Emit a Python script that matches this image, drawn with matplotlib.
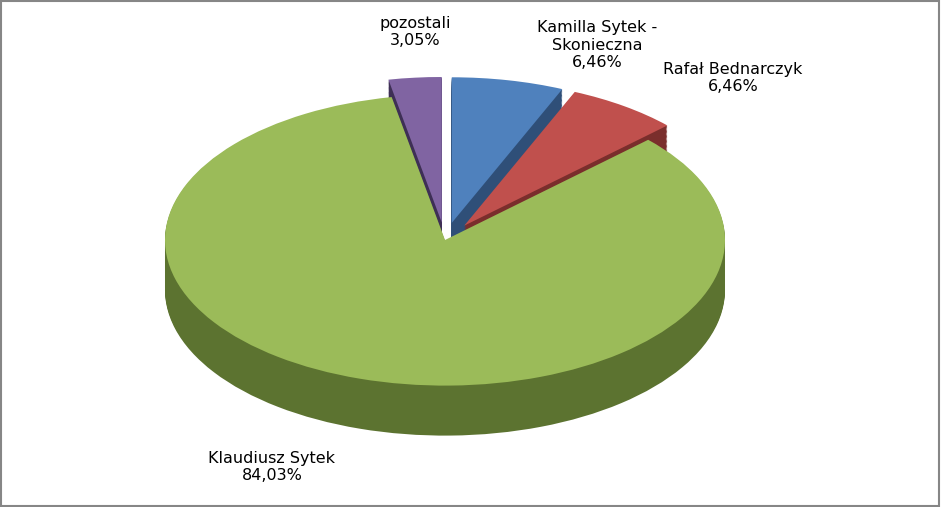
import matplotlib
matplotlib.use("Agg")
import matplotlib.pyplot as plt
from matplotlib.transforms import Affine2D
import numpy as np

labels = ["Kamilla Sytek -\nSkonieczna", "Rafał Bednarczyk", "Klaudiusz Sytek", "pozostali"]
values = [6.46, 6.46, 84.03, 3.05]
pct_text = ["6,46%", "6,46%", "84,03%", "3,05%"]
colors = ["#4F81BD", "#C0504D", "#9BBB59", "#8064A2"]
side_colors = ["#2F4F78", "#7A2E2C", "#5C7330", "#3E2F55"]
explode = [0.12, 0.12, 0.0, 0.12]

fig = plt.figure(figsize=(9.41, 5.07), dpi=100)
ax = fig.add_axes([0, 0, 1, 1])
cx, cy, R, sy, depth = 445, 267, 280, 0.52, 50
expl_px = [e * R for e in explode]

def draw(idx, d, cols):
    w, _ = ax.pie(values, radius=R, center=(cx, cy), startangle=90, counterclock=False,
                  explode=expl_px, colors=cols, frame=True,
                  wedgeprops=dict(linewidth=0))
    tr = Affine2D().translate(-cx, -cy).scale(1, sy).translate(cx, cy - d) + ax.transData
    for i, p in enumerate(w):
        if i in idx:
            p.set_transform(tr)
        else:
            p.remove()

for group in ([0, 1, 3], [2]):
    for d in np.linspace(depth, 1, 40):
        draw(group, d, side_colors)
    draw(group, 0, colors)
ax.set_xlim(0, 941); ax.set_ylim(0, 507); ax.axis("off")

fs = 11.5
ax.text(415, 475, labels[3] + "\n" + pct_text[3], ha="center", va="center", fontsize=fs, linespacing=1.2)
ax.text(597, 462, labels[0] + "\n" + pct_text[0], ha="center", va="center", fontsize=fs, linespacing=1.2)
ax.text(733, 429, labels[1] + "\n" + pct_text[1], ha="center", va="center", fontsize=fs, linespacing=1.2)
ax.text(272, 40, labels[2] + "\n" + pct_text[2], ha="center", va="center", fontsize=fs, linespacing=1.2)
fig.patches.append(plt.Rectangle((0.001, 0.002), 0.997, 0.996, transform=fig.transFigure,
                                 fill=False, edgecolor="#868686", linewidth=1.5))
fig.savefig("out.png", dpi=100)
